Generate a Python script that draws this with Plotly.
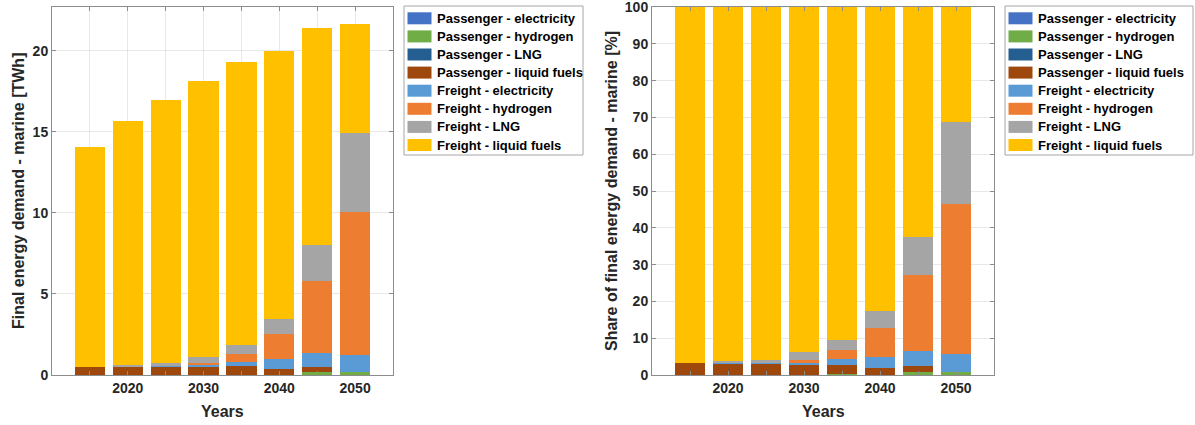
import plotly.graph_objects as go

# Marine final energy demand by segment and carrier [TWh]
years = [2015, 2020, 2025, 2030, 2035, 2040, 2045, 2050]
series_names = [
    "Passenger - electricity",
    "Passenger - hydrogen",
    "Passenger - LNG",
    "Passenger - liquid fuels",
    "Freight - electricity",
    "Freight - hydrogen",
    "Freight - LNG",
    "Freight - liquid fuels",
]
passenger_electricity = [0.0, 0.0, 0.0, 0.0, 0.0, 0.0, 0.0, 0.0]
passenger_hydrogen = [0.0, 0.0, 0.0, 0.0, 0.03, 0.01, 0.17, 0.18]
passenger_lng = [0.0, 0.0, 0.0, 0.0, 0.0, 0.0, 0.0, 0.0]
passenger_liquid = [0.47, 0.50, 0.51, 0.51, 0.52, 0.38, 0.34, 0.0]
freight_electricity = [0.0, 0.04, 0.03, 0.08, 0.27, 0.57, 0.87, 1.06]
freight_hydrogen = [0.0, 0.0, 0.0, 0.17, 0.48, 1.58, 4.42, 8.84]
freight_lng = [0.0, 0.06, 0.17, 0.35, 0.56, 0.92, 2.23, 4.82]
freight_liquid = [13.58, 15.04, 16.27, 17.04, 17.46, 16.51, 13.37, 6.75]

tick_years = [2015, 2020, 2025, 2030, 2035, 2040, 2045, 2050]
tick_labels = ["", "2020", "", "2030", "", "2040", "", "2050"]
abs_ticks = [0, 5, 10, 15, 20]
share_ticks = [0, 10, 20, 30, 40, 50, 60, 70, 80, 90, 100]

colors = ["#4472C4", "#70AD47", "#255E91", "#9E480E",
          "#5B9BD5", "#ED7D31", "#A5A5A5", "#FFC000"]

series = [passenger_electricity, passenger_hydrogen, passenger_lng, passenger_liquid,
          freight_electricity, freight_hydrogen, freight_lng, freight_liquid]

# shares of the yearly total, in percent
totals = [sum(v) for v in zip(*series)]
shares = [[100.0 * v / t for v, t in zip(s, totals)] for s in series]

W, H = 1195, 425
FONT = "Liberation Sans, Arial, sans-serif"
TXT = "#262626"

fig = go.Figure()
for name, col, vals, pct in zip(series_names, colors, series, shares):
    fig.add_trace(go.Bar(x=years, y=vals, name=name, marker=dict(color=col, line=dict(width=0)),
                         width=4, xaxis="x", yaxis="y", showlegend=False))
    fig.add_trace(go.Bar(x=years, y=pct, name=name, marker=dict(color=col, line=dict(width=0)),
                         width=4, xaxis="x2", yaxis="y2", showlegend=False))


def px_x(p):
    return p / W


def px_y(p):
    return 1 - p / H


axis_common = dict(
    showline=True, linecolor="#8c8c8c", linewidth=1, mirror="ticks",
    ticks="inside", ticklen=4, tickcolor="#8c8c8c",
    showgrid=True, gridcolor="rgba(0,0,0,0.09)", gridwidth=1,
    zeroline=False, layer="above traces", automargin=False,
    ticklabeloverflow="allow",
    tickfont=dict(family=FONT, size=14, color=TXT, weight="bold"),
)

xa = dict(axis_common, range=[2010, 2055], tickvals=tick_years, ticktext=tick_labels)

fig.update_layout(
    width=W, height=H, margin=dict(l=0, r=0, t=0, b=0, autoexpand=False),
    paper_bgcolor="white", plot_bgcolor="white",
    barmode="stack", bargap=0,
    xaxis=dict(xa, domain=[px_x(52), px_x(393)], anchor="y"),
    yaxis=dict(axis_common, domain=[px_y(375), px_y(7)], anchor="x",
               range=[0, 22.7], tickvals=abs_ticks),
    xaxis2=dict(xa, domain=[px_x(652), px_x(994)], anchor="y2"),
    yaxis2=dict(axis_common, domain=[px_y(375), px_y(7)], anchor="x2",
                range=[0, 100.0001], tickvals=share_ticks),
)

annotations = []
shapes = []

# axis titles
title_font = dict(family=FONT, size=16, color=TXT, weight="bold")
for cx in (222.5, 823):
    annotations.append(dict(text="Years", x=px_x(cx), y=px_y(411), xref="paper", yref="paper",
                            showarrow=False, font=title_font, xanchor="center", yanchor="middle"))
annotations.append(dict(text="Final energy demand - marine [TWh]", x=px_x(18), y=px_y(191),
                        xref="paper", yref="paper", showarrow=False, textangle=-90,
                        font=title_font, xanchor="center", yanchor="middle"))
annotations.append(dict(text="Share of final energy demand - marine [%]", x=px_x(611), y=px_y(191),
                        xref="paper", yref="paper", showarrow=False, textangle=-90,
                        font=title_font, xanchor="center", yanchor="middle"))

# legends drawn beside each panel
legend_font = dict(family=FONT, size=13, color="black", weight="bold")
row_y = [18.3 + 18.1 * i for i in range(len(series_names))]
for box_l, box_r, sw_l in ((404, 583, 407.5), (1005, 1193, 1008.5)):
    shapes.append(dict(type="rect", xref="paper", yref="paper",
                       x0=px_x(box_l), x1=px_x(box_r), y0=px_y(155), y1=px_y(6),
                       line=dict(color="#a6a6a6", width=1), fillcolor="white"))
    for name, col, ry in zip(series_names, colors, row_y):
        shapes.append(dict(type="rect", xref="paper", yref="paper",
                           x0=px_x(sw_l), x1=px_x(sw_l + 24), y0=px_y(ry + 6), y1=px_y(ry - 6),
                           line=dict(width=0), fillcolor=col))
        annotations.append(dict(text=name, x=px_x(sw_l + 27), y=px_y(ry), xref="paper", yref="paper",
                                showarrow=False, font=legend_font, xanchor="left", yanchor="middle"))

fig.update_layout(annotations=annotations, shapes=shapes)
fig.write_html("out.html")
